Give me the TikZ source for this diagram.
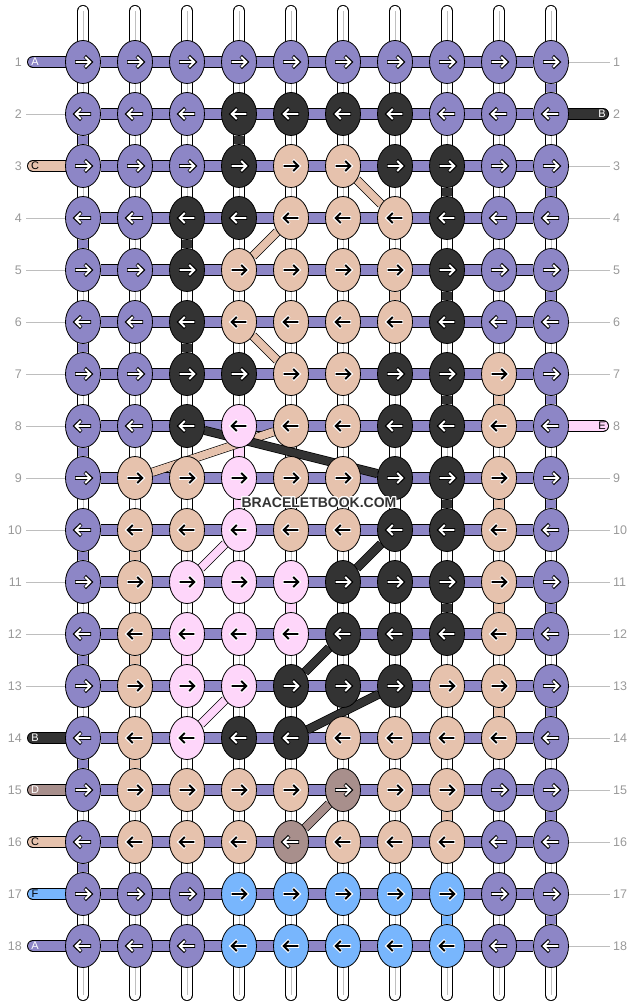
\documentclass[tikz,border=0pt]{standalone}
\usepackage{fontspec}
\setmainfont{Liberation Sans}
\usepackage{contour}
\contourlength{1pt}
\usetikzlibrary{shapes.geometric,backgrounds}

\definecolor{bbP}{RGB}{141,134,198}
\definecolor{bbK}{RGB}{51,51,51}
\definecolor{bbC}{RGB}{230,194,173}
\definecolor{bbE}{RGB}{254,214,250}
\definecolor{bbD}{RGB}{168,143,140}
\definecolor{bbF}{RGB}{120,182,253}
\definecolor{numgray}{RGB}{153,153,153}
\definecolor{guidegray}{RGB}{190,190,190}
\colorlet{inkP}{white}\colorlet{haloP}{black}
\colorlet{inkK}{white}\colorlet{haloK}{black}
\colorlet{inkD}{white}\colorlet{haloD}{black}
\colorlet{inkC}{black}\colorlet{haloC}{white}
\colorlet{inkE}{black}\colorlet{haloE}{white}
\colorlet{inkF}{black}\colorlet{haloF}{white}

\tikzset{
  knot/.style={ellipse,draw=black,line width=0.8pt,minimum width=35pt,minimum height=43pt,inner sep=0pt},
  thread/.style={draw=black,line width=0.8pt,double=#1,double distance=10.4pt},
  warp/.style={thread=white,line cap=round},
  tail/.style={thread=#1,line cap=round},
  diag/.style={draw=black,line width=0.7pt,double=#1,double distance=7.6pt},
  arrowline/.style={line join=miter,line cap=butt},
  rownum/.style={text=numgray,inner sep=0pt,font=\fontsize{12.5}{12.5}\selectfont},
  tag/.style={inner sep=0pt,font=\fontsize{11}{11}\selectfont},
  guide/.style={draw=guidegray,line width=0.8pt},
}

\begin{document}
\begin{tikzpicture}[x=1pt,y=-1pt]
\useasboundingbox (0,0) rectangle (636,1008);

% knots, row by row
\foreach \r/\row in {1/{P,P,P,P,P,P,P,P,P,P}, 2/{P,P,P,K,K,K,K,P,P,P},
    3/{P,P,P,K,C,C,K,K,P,P}, 4/{P,P,K,K,C,C,C,K,P,P},
    5/{P,P,K,C,C,C,C,K,P,P}, 6/{P,P,K,C,C,C,C,K,P,P},
    7/{P,P,K,K,C,C,K,K,C,P}, 8/{P,P,K,E,C,C,K,K,C,P},
    9/{P,C,C,E,C,C,K,K,C,P}, 10/{P,C,C,E,C,C,K,K,C,P},
    11/{P,C,E,E,E,K,K,K,C,P}, 12/{P,C,E,E,E,K,K,K,C,P},
    13/{P,C,E,E,K,K,K,C,C,P}, 14/{P,C,E,K,K,C,C,C,C,P},
    15/{P,C,C,C,C,D,C,C,P,P}, 16/{P,C,C,C,D,C,C,C,P,P},
    17/{P,P,P,F,F,F,F,F,P,P}, 18/{P,P,P,F,F,F,F,F,P,P}}{
  \foreach \k [count=\c] in \row {
    \node[knot,fill=bb\k] (n\r-\c) at ({83+52*(\c-1)},{62+52*(\r-1)}) {};
    \ifodd\r \def\dir{1}\else\def\dir{-1}\fi
    \begin{scope}[shift={(n\r-\c.center)},xscale=\dir]
      \draw[arrowline,line width=3.6pt,draw=halo\k] (-8,0) -- (7,0) (1.8,-5.8) -- (7.8,0) -- (1.8,5.8);
      \draw[arrowline,line width=1.9pt,draw=ink\k] (-7.4,0) -- (7,0) (2.2,-5) -- (7.2,0) -- (2.2,5);
    \end{scope}
  }
  \node[rownum,anchor=east] (ln\r) at (22,{62+52*(\r-1)}) {\r};
  \node[rownum,anchor=west] (rn\r) at (613,{62+52*(\r-1)}) {\r};
}

\foreach \c in {1,...,10} {
  \coordinate (wt\c) at ({83+52*(\c-1)},11);
  \coordinate (wb\c) at ({83+52*(\c-1)},995);
}

% loose ends
\foreach \r/\k/\t in {1/P/A, 3/C/C, 14/K/B, 15/D/D, 16/C/C, 17/F/F, 18/P/A} {
  \coordinate (lt\r) at (33,{62+52*(\r-1)});
  \node[tag,text=ink\k] (ltag\r) at (35,{62+52*(\r-1)}) {\t};
}
\foreach \r/\k/\t in {2/K/B, 8/E/E} {
  \coordinate (rt\r) at (603,{62+52*(\r-1)});
  \node[tag,text=ink\k] (rtag\r) at (602,{62+52*(\r-1)}) {\t};
}
\foreach \r in {2,4,5,6,7,8,9,10,11,12,13} {
  \coordinate (lg\r) at (26,{62+52*(\r-1)});
  \draw[guide] (lg\r) -- (n\r-1.west);
}
\foreach \r in {1,3,4,5,6,7,9,10,11,12,13,14,15,16,17,18} {
  \coordinate (rg\r) at (610,{62+52*(\r-1)});
  \draw[guide] (n\r-10.east) -- (rg\r);
}

\node[font=\fontsize{14}{14}\selectfont\bfseries,text=bbK,inner sep=0pt] (wm) at (319,503) {\contour{white}{BRACELETBOOK.COM}};

\begin{pgfonlayer}{background}
\foreach \c in {1,...,10} {
  \draw[warp] (wt\c) -- (wb\c);
  \draw[black!25,line width=0.6pt] (wt\c) -- (wb\c);
}
\foreach \r in {1,...,18}
  \draw[thread=bbP] (n\r-1) -- (n\r-10);

% coloured bits between rows
\foreach \r/\c/\k in {1/10/P, 2/1/P, 2/4/K, 3/8/K, 3/10/P, 4/1/P, 4/3/K,
    5/7/C, 5/8/K, 5/10/P, 6/1/P, 6/3/K, 7/8/K, 7/9/C, 7/10/P, 8/1/P, 8/4/E,
    9/4/E, 9/8/K, 9/9/C, 9/10/P, 10/1/P, 10/2/C, 11/5/E, 11/8/K, 11/9/C, 11/10/P,
    12/1/P, 12/2/C, 12/3/E, 13/9/C, 13/10/P, 14/1/P, 14/2/C, 15/8/C, 15/10/P,
    16/1/P, 17/8/F, 17/10/P} {
  \pgfmathtruncatemacro\rn{\r+1}
  \draw[thread=bb\k] (n\r-\c) -- (n\rn-\c);
}

\foreach \r/\k in {1/P, 3/C, 14/K, 15/D, 16/C, 17/F, 18/P}
  \draw[tail=bb\k] (lt\r) -- (n\r-1);
\foreach \r/\k in {2/K, 8/E}
  \draw[tail=bb\k] (n\r-10) -- (rt\r);

% diagonals
\foreach \ra/\ca/\rb/\cb/\k in {3/6/4/7/C, 4/5/5/4/C, 6/4/7/5/C, 9/2/8/5/C,
    8/3/9/7/K, 10/4/11/3/E, 13/4/14/3/E, 10/7/11/6/K, 12/6/13/5/K,
    13/7/14/5/K, 15/6/16/5/D}
  \draw[diag=bb\k] (n\ra-\ca) -- (n\rb-\cb);
\end{pgfonlayer}

\end{tikzpicture}
\end{document}
